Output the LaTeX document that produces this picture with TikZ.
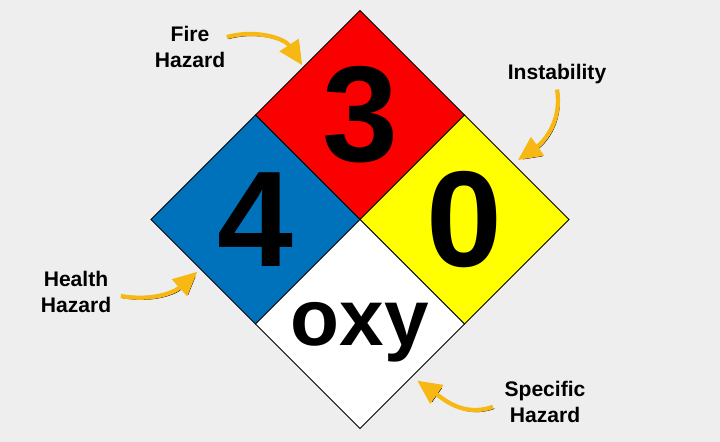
\documentclass[tikz,border=0pt]{standalone}
\usepackage{fontspec}
\setmainfont{Liberation Sans}
\usepackage{tikz}
\usetikzlibrary{positioning,arrows.meta,calc,shapes.geometric}
\usepackage{xcolor}

\definecolor{bggray}{RGB}{238,238,238}
\definecolor{firered}{RGB}{250,0,0}
\definecolor{healthblue}{RGB}{0,114,188}
\definecolor{reactyellow}{RGB}{255,255,0}
\definecolor{arrowgold}{RGB}{247,184,20}

\begin{document}
\begin{tikzpicture}[
        quad/.style={
            draw=black,
            line width=0.6pt,
            shape=diamond,
            aspect=1,
            minimum width=5.225cm,
            minimum height=5.225cm,
            inner sep=0pt,
            outer sep=0pt
        },
        rating/.style={
            font=\fontsize{97}{97}\selectfont\bfseries
        },
        special/.style={
            text depth=0pt,
            font=\fontsize{57}{57}\selectfont\bfseries
        },
        callout/.style={
            align=center,
            inner sep=1pt,
            font=\fontsize{15}{18}\selectfont\bfseries
        },
        pointer/.style={
            -{Triangle[length=6mm,width=5.5mm]},
            line width=3pt,
            draw=arrowgold,
            preaction={draw=black, transform canvas={shift={(1.1pt,-1.3pt)}}}
        }
    ]

    % =========================
    % Background
    % =========================
    \fill[bggray] (0,0) rectangle (18,11.05);

    % =========================
    % Diamond
    % =========================
    \node[quad, fill=firered, rating] (fire) at (9,8.175) {3};
    \node[quad, fill=healthblue, rating, below left=0cm of fire] (health) {4};
    \node[quad, fill=reactyellow, rating, below right=0cm of fire] (react) {0};
    \node[quad, fill=white, special, below right=0cm of health] (spec) {oxy};

    % =========================
    % Labels
    % =========================
    \node[callout] (firelbl) at (4.75,9.875) {Fire\\Hazard};
    \node[callout] (instlbl) at (13.925,9.2) {Instability};
    \node[callout] (healthlbl) at (1.9,3.75) {Health\\Hazard};
    \node[callout] (speclbl) at (13.625,1.0) {Specific\\Hazard};

    % =========================
    % Arrows
    % =========================
    \draw[pointer] ($(firelbl.east)+(0,0.25)$)
        to[out=15,in=123] ($(fire.north west)+(-0.14,-0.06)$);
    \draw[pointer] ($(instlbl.south)+(0,-0.1)$)
        to[out=-80,in=35] ($(react.north east)+(0.03,0.18)$);
    \draw[pointer] ($(healthlbl.east)+(0.2,-0.1)$)
        to[out=-10,in=222] ($(health.south west)+(-0.15,0)$);
    \draw[pointer] ($(speclbl.west)+(-0.25,-0.12)$)
        to[out=200,in=-35] ($(spec.south east)+(0.125,-0.11)$);

\end{tikzpicture}
\end{document}
